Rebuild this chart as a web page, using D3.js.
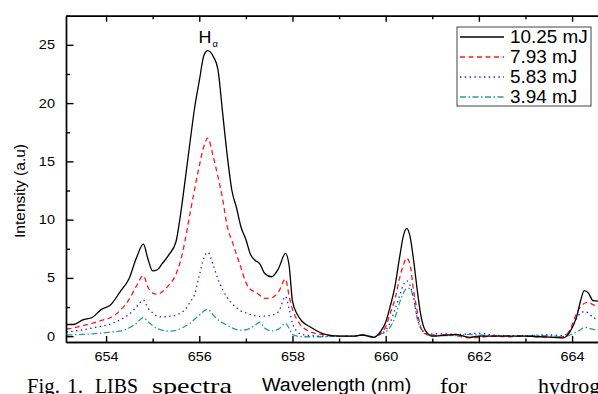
<!DOCTYPE html>
<html>
<head>
<meta charset="utf-8">
<script src="https://cdn.jsdelivr.net/npm/d3@7"></script>
<style>
  body { margin: 0; background: #fff; }
  svg { display: block; }
</style>
</head>
<body>
<svg width="598" height="394"></svg>
<script>
// wavelength grid (nm) and intensities
var wavelength = [653.15, 653.3, 653.5, 653.7, 653.9, 654.1, 654.3, 654.5, 654.65, 654.8, 654.9, 655.0, 655.1, 655.2, 655.35, 655.5, 655.6, 655.7, 655.8, 655.9,
  656.0, 656.1, 656.18, 656.3, 656.4, 656.5, 656.6, 656.7, 656.8, 656.9, 657.0, 657.1, 657.2, 657.3, 657.4, 657.55, 657.7, 657.85, 657.93, 658.0,
  658.1, 658.2, 658.4, 658.7, 659.0, 659.3, 659.5, 659.75, 659.9, 660.0, 660.1, 660.2, 660.3, 660.38, 660.45, 660.52, 660.6, 660.67, 660.75, 660.85,
  661.0, 661.3, 661.5, 661.8, 662.0, 662.3, 662.6, 663.0, 663.3, 663.6, 663.8, 663.95, 664.1, 664.18, 664.26, 664.35, 664.45, 664.6];

var e1025 = [1.0, 1.0, 1.4, 1.6, 2.3, 2.7, 3.8, 5.0, 6.7, 7.9, 6.6, 5.6, 5.7, 6.2, 7.0, 8.1, 10.5, 13.5, 16.6, 19.6,
  21.9, 24.1, 24.5, 24.0, 22.9, 19.2, 15.5, 12.5, 11.0, 9.3, 8.3, 7.0, 6.5, 6.2, 5.4, 5.1, 5.8, 7.1, 6.0, 3.0,
  1.9, 1.3, 0.75, 0.15, 0.0, 0.0, 0.1, -0.1, 0.45, 1.2, 2.6, 4.3, 6.8, 8.6, 9.25, 8.6, 6.5, 4.2, 1.9, 0.5,
  0.0, 0.1, 0.15, -0.1, 0.0, 0.0, 0.0, 0.0, -0.05, -0.1, -0.15, 0.35, 1.7, 3.0, 3.9, 3.7, 3.05, 3.0];

var e793 = [0.6, 0.7, 0.9, 1.1, 1.35, 1.6, 2.2, 3.2, 4.3, 5.2, 4.2, 3.7, 3.6, 3.8, 4.4, 5.3, 6.5, 8.3, 10.5, 12.6,
  14.6, 16.3, 17.0, 15.4, 13.7, 11.8, 9.4, 8.2, 7.0, 5.8, 4.6, 4.0, 3.8, 3.5, 3.25, 3.3, 3.8, 4.9, 3.4, 2.3,
  1.4, 0.85, 0.35, 0.1, 0.0, 0.0, 0.1, -0.1, 0.3, 0.8, 2.0, 3.2, 5.0, 6.1, 6.7, 6.2, 3.9, 2.3, 0.8, 0.2,
  0.05, 0.1, 0.05, -0.15, -0.1, 0.0, -0.05, 0.0, -0.05, -0.1, -0.05, 0.5, 2.0, 2.5, 2.8, 2.9, 2.7, 2.5];

var e583 = [0.37, 0.42, 0.55, 0.7, 0.85, 1.05, 1.4, 1.9, 2.5, 3.1, 2.4, 2.0, 1.7, 1.65, 1.7, 1.8, 2.0, 2.3, 2.9, 3.6,
  5.2, 6.7, 7.2, 6.1, 4.9, 4.0, 3.3, 2.8, 2.45, 2.15, 2.0, 1.85, 1.75, 1.7, 1.72, 1.8, 2.1, 3.4, 2.3, 1.1,
  0.4, 0.15, 0.05, 0.0, 0.0, 0.0, 0.1, -0.05, 0.2, 0.5, 1.2, 2.3, 3.5, 4.4, 4.75, 4.4, 3.3, 1.7, 0.7, 0.3,
  0.2, 0.2, 0.15, 0.2, 0.25, 0.1, 0.05, 0.05, 0.1, 0.1, 0.05, 0.45, 1.5, 2.0, 2.1, 2.0, 1.6, 1.4];

var e394 = [0.1, 0.12, 0.15, 0.2, 0.27, 0.35, 0.43, 0.72, 1.1, 1.6, 1.25, 0.9, 0.65, 0.52, 0.43, 0.5, 0.66, 0.85, 1.1, 1.45,
  1.8, 2.15, 2.3, 1.8, 1.4, 1.15, 0.93, 0.72, 0.57, 0.52, 0.55, 0.7, 0.95, 1.2, 0.7, 0.45, 0.6, 1.1, 0.65, 0.15,
  0.0, -0.05, -0.05, -0.05, 0.0, 0.0, 0.1, -0.05, 0.2, 0.35, 0.8, 1.6, 2.9, 3.7, 4.1, 4.1, 3.2, 1.7, 0.7, 0.3,
  0.1, 0.05, 0.05, 0.15, 0.1, 0.05, 0.05, 0.05, 0.05, 0.0, -0.05, 0.1, 0.35, 0.55, 0.75, 0.7, 0.58, 0.55];

var seriesNames = ["10.25 mJ", "7.93 mJ", "5.83 mJ", "3.94 mJ"];
var seriesValues = [e1025, e793, e583, e394];
var xMajorTicks = [654, 656, 658, 660, 662, 664];
var xMinorTicks = [655, 657, 659, 661, 663, 665];
var yMajorTicks = [0, 5, 10, 15, 20, 25];
var yMinorTicks = [2.5, 7.5, 12.5, 17.5, 22.5, 27.5];

var styles = [
  { color: "#000000", dash: null },
  { color: "#ff1a1a", dash: "5,3.5" },
  { color: "#1a1aff", dash: "1.4,3.4" },
  { color: "#2a9a9a", dash: "6,2.5,1.5,2.5" }
];

var svg = d3.select("svg"),
    padL = 66, padT = 15.7, padB = 342,
    padR = padL + (665 - 653.14) * 46.6,
    sans = "'Liberation Sans', Arial, sans-serif",
    serif = "'Liberation Serif', 'Times New Roman', serif";

var x = d3.scaleLinear().domain([653.14, 665]).range([padL, padR]);
var y = d3.scaleLinear().domain([-0.5, 27.5]).range([padB, padT]);

function label(txt, px, py, size, sx, anchor, family) {
  return svg.append("text")
    .attr("transform", "translate(" + px + "," + py + ") scale(" + sx + ",1)")
    .attr("text-anchor", anchor || "start")
    .style("font-family", family || sans)
    .style("font-size", size + "px")
    .attr("fill", "#000")
    .text(txt);
}

svg.append("clipPath").attr("id", "plot")
  .append("rect").attr("x", padL).attr("y", padT).attr("width", padR - padL).attr("height", padB - padT);

// curves
var line = d3.line()
  .x((d, i) => x(wavelength[i]))
  .y(d => y(d))
  .curve(d3.curveMonotoneX);

svg.append("g").attr("clip-path", "url(#plot)")
  .selectAll("path")
  .data(seriesValues.slice().reverse())
  .enter().append("path")
  .attr("d", line)
  .attr("fill", "none")
  .attr("stroke", (d, i) => styles[3 - i].color)
  .attr("stroke-width", 1.3)
  .attr("stroke-dasharray", (d, i) => styles[3 - i].dash);

// axes
function styleAxis(g) {
  g.selectAll("path, line").attr("stroke", "#000").attr("stroke-width", 1.4);
  g.selectAll("text").style("font-family", sans).style("font-size", "12.5px").attr("fill", "#000");
}

var xb = svg.append("g").attr("transform", "translate(0," + padB + ")")
  .call(d3.axisBottom(x).tickValues(xMajorTicks).tickFormat(d3.format("d"))
    .tickSizeInner(-6).tickSizeOuter(0).tickPadding(10.5));
styleAxis(xb);
xb.selectAll("text").attr("transform", "scale(1.16,1)");
styleAxis(svg.append("g").attr("transform", "translate(0," + padB + ")")
  .call(d3.axisBottom(x).tickValues(xMinorTicks).tickFormat("").tickSizeInner(-3.5).tickSizeOuter(0)));

styleAxis(svg.append("g").attr("transform", "translate(0," + padT + ")")
  .call(d3.axisTop(x).tickValues(xMajorTicks).tickFormat("").tickSizeInner(-6).tickSizeOuter(0)));
styleAxis(svg.append("g").attr("transform", "translate(0," + padT + ")")
  .call(d3.axisTop(x).tickValues(xMinorTicks).tickFormat("").tickSizeInner(-3.5).tickSizeOuter(0)));

var yl = svg.append("g").attr("transform", "translate(" + padL + ",0)")
  .call(d3.axisLeft(y).tickValues(yMajorTicks).tickFormat(d3.format("d"))
    .tickSizeInner(-7.5).tickSizeOuter(0).tickPadding(9.5));
styleAxis(yl);
yl.selectAll("text").attr("transform", "scale(1.16,1)");
styleAxis(svg.append("g").attr("transform", "translate(" + padL + ",0)")
  .call(d3.axisLeft(y).tickValues(yMinorTicks).tickFormat("").tickSizeInner(-4).tickSizeOuter(0)));

// H alpha label
label("H", 198.5, 42.5, 16.5, 1.08);
label("\u03b1", 212.5, 47, 8.5, 1.1);

// axis titles
svg.append("text")
  .attr("transform", "translate(25,191) rotate(-90)")
  .attr("text-anchor", "middle")
  .style("font-family", sans)
  .style("font-size", "15px")
  .attr("textLength", 94)
  .attr("lengthAdjust", "spacingAndGlyphs")
  .text("Intensity (a.u)");

// caption words (Times), partially visible under the chart
var captionWords = [["Fig.", 27, 33], ["1.", 67, 16], ["LIBS", 95, 43], ["spectra", 152, 80], ["for", 440, 27], ["hydrogen", 538, 83]];
captionWords.forEach(function (w) {
  svg.append("text")
    .attr("x", w[1]).attr("y", 392.5)
    .style("font-family", serif)
    .style("font-size", "22px")
    .attr("textLength", w[2])
    .attr("lengthAdjust", "spacingAndGlyphs")
    .text(w[0]);
});

label("Wavelength (nm)", 262, 391, 18, 1.095);

// legend
var lg = svg.append("g");
lg.append("rect").attr("x", 457).attr("y", 27).attr("width", 134).attr("height", 79)
  .attr("fill", "#fff").attr("stroke", "#444").attr("stroke-width", 1);
seriesNames.forEach(function (name, i) {
  var ly = 37 + i * 20;
  lg.append("line").attr("x1", 460).attr("x2", 504).attr("y1", ly).attr("y2", ly)
    .attr("stroke", styles[i].color).attr("stroke-width", 1.3)
    .attr("stroke-dasharray", styles[i].dash);
  label(name, 510, ly + 6.3, 17.5, 1.08);
});
</script>
</body>
</html>
